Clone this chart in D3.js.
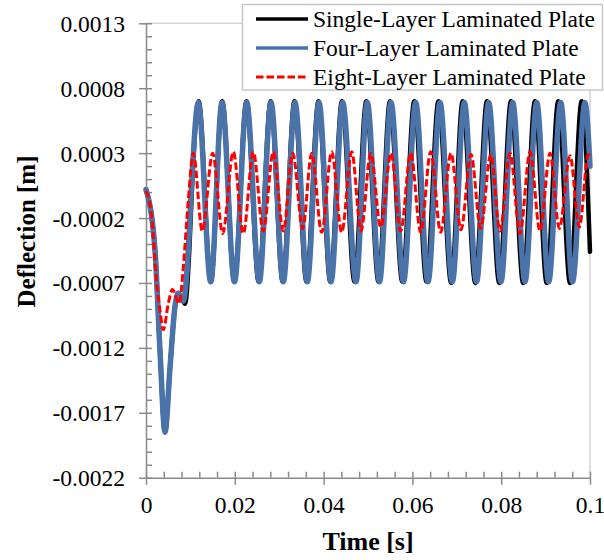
<!DOCTYPE html>
<html>
<head>
<meta charset="utf-8">
<script src="https://cdn.jsdelivr.net/npm/d3@7"></script>
<style>
  html, body { margin: 0; padding: 0; background: #fff; }
  svg { display: block; }
  text { font-family: "Liberation Serif", "Times New Roman", serif; fill: #000; }
</style>
</head>
<body>
<svg id="chart" width="604" height="560"></svg>
<script>
// Transverse deflection of laminated plates over time
const seriesNames = ["Single-Layer Laminated Plate", "Four-Layer Laminated Plate", "Eight-Layer Laminated Plate"];

// Single-layer plate: time [s] and deflection [m]
const singleT = [0, 0.00203, 0.00315, 0.00428, 0.00541, 0.00653, 0.00727, 0.00880, 0.00975, 0.01040,
  0.01185, 0.01460, 0.01716, 0.01989, 0.02264, 0.02538, 0.02809, 0.03079, 0.03345, 0.03615,
  0.03885, 0.04151, 0.04414, 0.04696, 0.04962, 0.05236, 0.05495, 0.05773, 0.06043, 0.06318,
  0.06588, 0.06874, 0.07133, 0.07417, 0.07680, 0.07957, 0.08221, 0.08495, 0.08761, 0.09025,
  0.09286, 0.09550, 0.09813, 0.1];
const singleV = [0.00002, -0.00045, -0.00122, -0.00185, -0.00135, -0.00088, -0.00078, -0.00086, -0.00045, 0.00007,
  0.00070, -0.00069, 0.00070, -0.00069, 0.00070, -0.00069, 0.00070, -0.00069, 0.00070, -0.00069,
  0.00070, -0.00069, 0.00070, -0.00069, 0.00070, -0.00069, 0.00070, -0.00069, 0.00070, -0.00069,
  0.00070, -0.00070, 0.00070, -0.00070, 0.00070, -0.00070, 0.00070, -0.00070, 0.00070, -0.00070,
  0.00070, -0.00070, 0.00070, -0.00046];

// Four-layer plate
const fourT = [0, 0.00203, 0.00315, 0.00428, 0.00541, 0.00653, 0.00727, 0.00840, 0.00953, 0.01029,
  0.01178, 0.01457, 0.01712, 0.01993, 0.02268, 0.02552, 0.02815, 0.03092, 0.03356, 0.03633,
  0.03896, 0.04167, 0.04430, 0.04730, 0.04984, 0.05259, 0.05518, 0.05800, 0.06074, 0.06351,
  0.06622, 0.06899, 0.07169, 0.07444, 0.07718, 0.07995, 0.08259, 0.08536, 0.08800, 0.09070,
  0.09340, 0.09606, 0.09887, 0.1];
const fourV = [0.00002, -0.00045, -0.00122, -0.00185, -0.00135, -0.00088, -0.00078, -0.00084, -0.00045, 0.00007,
  0.00069, -0.00069, 0.00069, -0.00069, 0.00069, -0.00069, 0.00069, -0.00069, 0.00069, -0.00069,
  0.00069, -0.00069, 0.00069, -0.00069, 0.00069, -0.00069, 0.00069, -0.00069, 0.00069, -0.00069,
  0.00069, -0.00069, 0.00069, -0.00069, 0.00069, -0.00069, 0.00069, -0.00069, 0.00069, -0.00069,
  0.00069, -0.00069, 0.00069, 0.00020];

// Eight-layer plate
const eightT = [0, 0.00128, 0.00241, 0.00315, 0.00390, 0.00502, 0.00592, 0.00750, 0.00840, 0.00953,
  0.01065, 0.01268, 0.01502, 0.01727, 0.01966, 0.02191, 0.02417, 0.02642, 0.02867, 0.03092,
  0.03304, 0.03529, 0.03732, 0.03957, 0.04182, 0.04408, 0.04633, 0.04842, 0.05061, 0.05286,
  0.05518, 0.05736, 0.05962, 0.06187, 0.06412, 0.06637, 0.06869, 0.07095, 0.07320, 0.07538,
  0.07764, 0.07973, 0.08198, 0.08423, 0.08649, 0.08874, 0.09099, 0.09309, 0.09550, 0.09759,
  0.09962, 0.1];
const eightV = [0.00001, -0.00019, -0.00070, -0.00091, -0.00106, -0.00086, -0.00075, -0.00086, -0.00058, -0.00006,
  0.00030, -0.00030, 0.00030, -0.00032, 0.00031, -0.00032, 0.00031, -0.00030, 0.00031, -0.00030,
  0.00030, -0.00028, 0.00030, -0.00031, 0.00031, -0.00031, 0.00031, -0.00030, 0.00030, -0.00027,
  0.00030, -0.00030, 0.00030, -0.00031, 0.00031, -0.00031, 0.00030, -0.00029, 0.00029, -0.00028,
  0.00029, -0.00030, 0.00030, -0.00032, 0.00031, -0.00030, 0.00030, -0.00028, 0.00028, -0.00027,
  0.00029, 0.00027];

// Axis ticks
const xMajor = [0, 0.02, 0.04, 0.06, 0.08, 0.1];
const xLabels = ["0", "0.02", "0.04", "0.06", "0.08", "0.1"];
const yMajor = [-0.0022, -0.0017, -0.0012, -0.0007, -0.0002, 0.0003, 0.0008, 0.0013];
const yLabels = ["-0.0022", "-0.0017", "-0.0012", "-0.0007", "-0.0002", "0.0003", "0.0008", "0.0013"];

const svg = d3.select("#chart");
const plotL = 146, plotR = 590, plotT = 23.3, plotB = 477.7;
const serif = "Liberation Serif";

const x = d3.scaleLinear().domain([0, 0.1]).range([plotL, plotR]);
const y = d3.scaleLinear().domain([-0.0022, 0.0013]).range([plotB, plotT]);

const axisColor = "#8a8a8a";
const frameColor = "#d4d4d4";

// plot frame (top and right edges)
svg.append("path")
  .attr("d", `M${plotL},${plotT}H${plotR}V${plotB}`)
  .attr("fill", "none").attr("stroke", frameColor).attr("stroke-width", 1.5);

// minor ticks (inside)
const xMinor = d3.range(0, 26).map(i => i * 0.004);
const yMinor = d3.range(0, 36).map(i => -0.0022 + i * 0.0001);

svg.append("g").attr("transform", `translate(0,${plotB})`)
  .call(d3.axisBottom(x).tickValues(xMinor).tickSize(-6).tickFormat(""))
  .call(g => g.select(".domain").remove())
  .call(g => g.selectAll("line").attr("stroke", axisColor).attr("stroke-width", 1.5));
svg.append("g").attr("transform", `translate(${plotL},0)`)
  .call(d3.axisLeft(y).tickValues(yMinor).tickSize(-6).tickFormat(""))
  .call(g => g.select(".domain").remove())
  .call(g => g.selectAll("line").attr("stroke", axisColor).attr("stroke-width", 1.5));

// major axes
const xAxis = svg.append("g").attr("transform", `translate(0,${plotB})`)
  .call(d3.axisBottom(x).tickValues(xMajor).tickSize(7).tickSizeOuter(0).tickPadding(12)
    .tickFormat((d, i) => xLabels[i]));
const yAxis = svg.append("g").attr("transform", `translate(${plotL},0)`)
  .call(d3.axisLeft(y).tickValues(yMajor).tickSize(7).tickSizeOuter(0).tickPadding(14)
    .tickFormat((d, i) => yLabels[i]));
[xAxis, yAxis].forEach(g => {
  g.attr("font-family", serif).attr("font-size", 23.5);
  g.select(".domain").attr("stroke", axisColor).attr("stroke-width", 1.5);
  g.selectAll("line").attr("stroke", axisColor).attr("stroke-width", 1.5);
  g.selectAll("text").attr("font-family", serif).attr("font-size", 23.5).attr("fill", "#000");
});
yAxis.selectAll("text").attr("dy", "0.34em");

// axis titles
svg.append("text")
  .attr("x", 368).attr("y", 550)
  .attr("text-anchor", "middle")
  .attr("font-family", serif).attr("font-size", 26).attr("font-weight", "bold")
  .text("Time [s]");
svg.append("text")
  .attr("transform", "translate(35,231.5) rotate(-90)")
  .attr("text-anchor", "middle")
  .attr("font-family", serif).attr("font-size", 25).attr("font-weight", "bold")
  .text("Deflection [m]");

// series curves
const line = d3.line()
  .x(d => x(d[0]))
  .y(d => y(d[1]))
  .curve(d3.curveMonotoneX);

const series = [
  { t: singleT, v: singleV, color: "#000000", width: 4.5, dash: null },
  { t: fourT, v: fourV, color: "#4a73aa", width: 5.5, dash: null },
  { t: eightT, v: eightV, color: "#ff0000", width: 3, dash: "7.5,3" }
];

series.forEach(s => {
  const pts = s.t.map((t, i) => [t, s.v[i]]);
  svg.append("path")
    .datum(pts)
    .attr("d", line)
    .attr("fill", "none")
    .attr("stroke", s.color)
    .attr("stroke-width", s.width)
    .attr("stroke-linejoin", "round")
    .attr("stroke-linecap", s.dash ? "butt" : "round")
    .attr("stroke-dasharray", s.dash);
});

// legend
const legend = svg.append("g");
legend.append("rect")
  .attr("x", 242.5).attr("y", 4.5).attr("width", 360).attr("height", 85.5)
  .attr("fill", "#fff").attr("stroke", "#c8c8c8").attr("stroke-width", 1.5);
const rowY = [19, 48, 77];
series.forEach((s, i) => {
  legend.append("line")
    .attr("x1", 256).attr("x2", 308)
    .attr("y1", rowY[i]).attr("y2", rowY[i])
    .attr("stroke", s.color)
    .attr("stroke-width", i === 2 ? 3 : 3.5)
    .attr("stroke-dasharray", s.dash);
  legend.append("text")
    .attr("x", 313).attr("y", rowY[i] + 7.5)
    .attr("font-family", serif).attr("font-size", 23.5)
    .text(seriesNames[i]);
});
</script>
</body>
</html>
